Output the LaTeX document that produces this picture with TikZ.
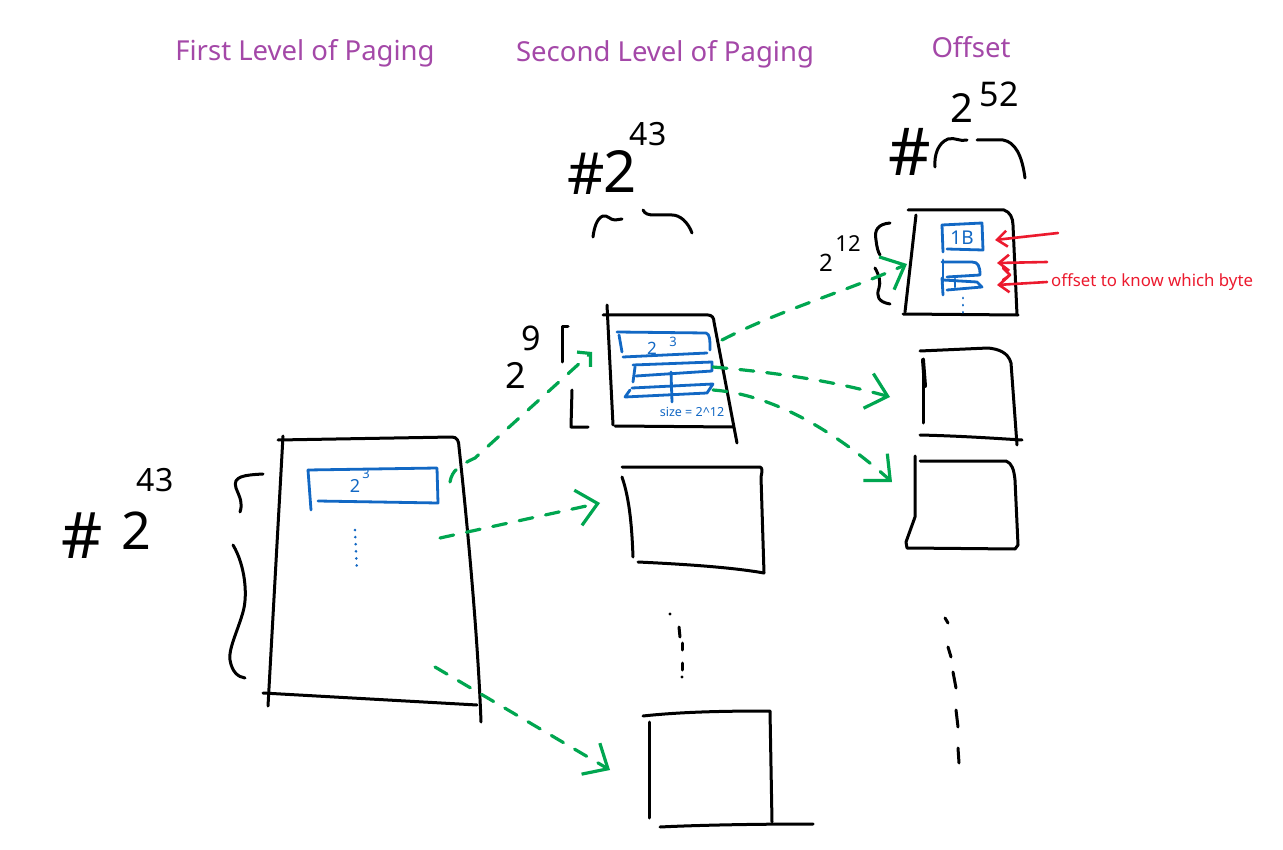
\documentclass[tikz,border=0pt]{standalone}
\usepackage{fontspec}
\setmainfont{Noto Sans}
\usetikzlibrary{arrows.meta}
\definecolor{headc}{RGB}{164,72,168}
\definecolor{inkblue}{RGB}{18,104,196}
\definecolor{inkgreen}{RGB}{0,166,80}
\definecolor{inkred}{RGB}{236,26,46}
\newcommand{\fsz}[1]{\fontsize{#1}{#1}\selectfont}
\begin{document}
\begin{tikzpicture}[x=1pt,y=-1pt,
  ink/.style={line width=3pt,line cap=round,line join=round,black},
  blueink/.style={line width=2.8pt,line cap=round,line join=round,inkblue},
  bluedots/.style={line width=2.8pt,line cap=round,inkblue,dash pattern=on 0.1pt off 7pt},
  redink/.style={line width=2.6pt,line cap=round,line join=round,inkred},
  redarrow/.style={redink,-{Straight Barb[length=10pt,width=16pt]}},
  greenarrow/.style={line width=3.2pt,line cap=round,inkgreen,dash pattern=on 14pt off 13pt,-{Straight Barb[length=20pt,width=36pt]}},
  head/.style={text=headc,font=\fsz{27.5},anchor=base,inner sep=0pt},
  hand/.style={inner sep=0pt,text=black},
  bluetxt/.style={inner sep=0pt,text=inkblue}
]
\useasboundingbox (0,0) rectangle (1283,850);
\fill[white] (0,0) rectangle (1283,850);

% ---------- headings
\node[head] (h1) at (305,61) {First Level of Paging};
\node[head] (h2) at (665,62) {Second Level of Paging};
\node[head] (h3) at (971,58) {Offset};

% ---------- first level
\node[hand,font=\fsz{64}] (hashA) at (82,536) {\#};
\node[hand,font=\fsz{52}] (twoA) at (136,531) {2};
\node[hand,font=\fsz{32}] (expA) at (155,480) {43};

\draw[ink] (278,440) -- (452,437) .. controls (457,437) and (459,441) .. (459,447)
  .. controls (468,530) and (478,640) .. (481,722);
\draw[ink] (283,436) -- (268,706);
\draw[ink] (263,693) -- (477,705);

\draw[ink] (263,474) .. controls (245,475) and (232,476) .. (236,488) .. controls (240,498) and (243,503) .. (240,512);
\draw[ink] (233,545) .. controls (245,565) and (248,595) .. (243,612) .. controls (238,630) and (228,650) .. (230,660) .. controls (232,672) and (238,677) .. (245,678);

\draw[blueink] (308,470) -- (437,468) -- (438,503) -- (318,501);
\draw[blueink] (308,470) -- (311,510);
\node[bluetxt,font=\fsz{18}\bfseries] (eA) at (355,486) {2};
\node[bluetxt,font=\fsz{13}\bfseries] (eAx) at (366,474) {3};
\draw[bluedots] (355,530) -- (357,572);

% ---------- second level
\node[hand,font=\fsz{58}] (hashB) at (586,174) {\#};
\node[hand,font=\fsz{58}] (twoB) at (620,172) {2};
\node[hand,font=\fsz{32}] (expB) at (648,134) {43};
\draw[ink] (593,237) .. controls (594,228) and (597,218) .. (603,216) .. controls (608,215) and (610,220) .. (615,220) -- (622,219);
\draw[ink] (643,210) .. controls (645,214) and (648,215) .. (655,215) -- (672,215) .. controls (680,215) and (688,222) .. (692,233);

\node[hand,font=\fsz{36}] (twoB9) at (516,375) {2};
\node[hand,font=\fsz{34}] (nineB) at (531,338) {9};
\draw[ink] (568,327) -- (562,327) -- (562,362);
\draw[ink] (572,390) -- (571,427) -- (588,427);

\draw[ink] (607,305) -- (613,425);
\draw[ink] (603,315) -- (708,315) .. controls (712,315) and (714,318) .. (714,322) -- (737,443);
\draw[ink] (615,426) -- (733,427);

\draw[blueink] (617,332) -- (706,333) .. controls (710,334) and (710,340) .. (710,350);
\draw[blueink] (619,335) -- (622,352);
\draw[blueink] (623,357) -- (707,353);
\node[bluetxt,font=\fsz{17}\bfseries] (eB) at (652,348) {2};
\node[bluetxt,font=\fsz{13}\bfseries] (eBx) at (673,342) {3};
\draw[blueink] (635,367) -- (633,382);
\draw[blueink] (633,365) -- (712,362) -- (712,371) -- (636,376);
\draw[blueink] (632,388) -- (713,384) -- (707,393) -- (625,397) -- (630,390);
\draw[blueink] (671,372) -- (672,402);
\node[bluetxt,font=\fsz{12.5}] (sz) at (692,412) {size = 2\^{}12};

\draw[ink] (622,467) -- (760,467) .. controls (763,468) and (762,472) .. (761,477) -- (764,573);
\draw[ink] (622,477) .. controls (630,500) and (632,530) .. (633,557);
\draw[ink] (638,562) .. controls (680,564) and (730,567) .. (764,573);

\fill (670,614) circle (1.6);
\draw[ink] (679,627) -- (680,637);
\draw[ink] (682,643) -- (682,650);
\draw[ink] (682,663) -- (682,670);
\fill (682,677) circle (1.6);

\draw[ink] (643,716) .. controls (680,712) and (720,711) .. (770,711) -- (772,822);
\draw[ink] (649,722) -- (649,818);
\draw[ink] (660,827) .. controls (700,825) and (760,824) .. (813,824);

% ---------- offset column
\node[hand,font=\fsz{66}] (hashC) at (910,152) {\#};
\node[hand,font=\fsz{40}] (twoC) at (962,108) {2};
\node[hand,font=\fsz{34}] (expC) at (999,94) {52};
\draw[ink] (935,167) .. controls (934,155) and (938,143) .. (948,139) .. controls (955,137) and (960,142) .. (967,140);
\draw[ink] (977,140) -- (1003,140) .. controls (1015,142) and (1022,155) .. (1025,178);

\node[hand,font=\fsz{24}] (twoC12) at (826,263) {2};
\node[hand,font=\fsz{22}] (twelveC) at (848,244) {12};
\draw[ink] (890,223) .. controls (878,224) and (874,230) .. (876,240) .. controls (877,248) and (878,252) .. (880,255);
\draw[ink] (875,268) .. controls (879,275) and (881,282) .. (879,288) .. controls (876,296) and (878,302) .. (890,304);

\draw[ink] (908,210) -- (1004,210) .. controls (1010,212) and (1013,218) .. (1013,225) -- (1017,315);
\draw[ink] (916,215) -- (905,312);
\draw[ink] (903,314) -- (1018,315);

\draw[blueink] (942,225) -- (982,223) -- (983,250) -- (947,249);
\draw[blueink] (942,225) -- (943,252);
\node[bluetxt,font=\fsz{19}\bfseries] (oneB) at (962,238) {1B};
\draw[blueink] (942,262) -- (972,262) .. controls (978,262) and (980,266) .. (980,275) -- (947,277);
\draw[blueink] (943,260) -- (943,282);
\draw[blueink] (943,280) -- (977,282) -- (982,287) -- (947,290);
\draw[blueink] (942,278) -- (943,295);
\draw[blueink] (955,279) -- (955,287);
\draw[bluedots] (963,298) -- (963,313);

\coordinate (r1s) at (1058,233); \coordinate (r1e) at (995,240);
\coordinate (r2s) at (1047,262); \coordinate (r2e) at (997,263);
\coordinate (r3s) at (1047,282); \coordinate (r3e) at (997,285);
\draw[redarrow] (r1s) -- (r1e);
\draw[redarrow] (r2s) -- (r2e);
\draw[redarrow] (r3s) -- (r3e);
\draw[redink] (1003,268) -- (1010,275) -- (1003,280);
\node[text=inkred,font=\fsz{16.8},anchor=west,inner sep=0pt] (offtxt) at (1051,282) {offset to know which byte};

\draw[ink] (920,351) -- (988,348) .. controls (998,349) and (1008,352) .. (1011,363) -- (1017,445);
\draw[ink] (923,359) -- (923,423);
\draw[ink,line width=4pt] (923,360) -- (925,386);
\draw[ink] (920,435) .. controls (960,436) and (990,438) .. (1022,440);

\draw[ink] (920,461) -- (1006,461) .. controls (1012,463) and (1014,470) .. (1015,480) -- (1018,545) -- (1015,549) -- (907,548) -- (906,542) -- (915,517) -- (915,456);

\draw[ink] (945,618) -- (948,623);
\draw[ink] (948,647) -- (951,657);
\draw[ink] (953,672) -- (956,688);
\draw[ink] (956,710) -- (958,727);
\draw[ink] (958,748) -- (959,763);

% ---------- green connectors
\coordinate (g1s) at (450,482); \coordinate (g1e) at (592,352);
\coordinate (g2s) at (440,538); \coordinate (g2e) at (600,503);
\coordinate (g3s) at (435,667); \coordinate (g3e) at (610,770);
\coordinate (g4s) at (722,340); \coordinate (g4e) at (907,264);
\coordinate (g5s) at (713,367); \coordinate (g5e) at (890,397);
\coordinate (g6s) at (713,390); \coordinate (g6e) at (892,482);
\draw[greenarrow,-{Straight Barb[length=9pt,width=20pt]}] (g1s) .. controls (452,470) and (460,465) .. (475,458) -- (g1e);
\draw[greenarrow] (g2s) -- (g2e);
\draw[greenarrow] (g3s) -- (g3e);
\draw[greenarrow] (g4s) .. controls (780,310) and (850,290) .. (g4e);
\draw[greenarrow] (g5s) .. controls (770,372) and (830,380) .. (g5e);
\draw[greenarrow] (g6s) .. controls (780,395) and (845,440) .. (g6e);
\end{tikzpicture}
\end{document}
